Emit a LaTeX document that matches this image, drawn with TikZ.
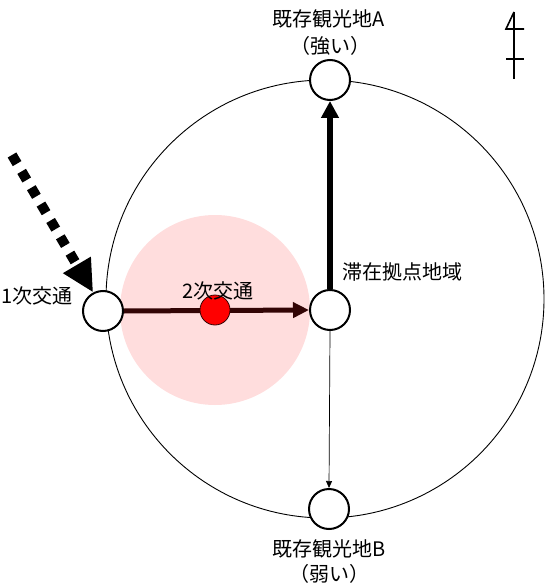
\documentclass[tikz,border=0pt]{standalone}
\usepackage{fontspec}
\setmainfont{Noto Sans CJK JP}
\usetikzlibrary{arrows.meta}
\definecolor{darkred}{RGB}{51,5,5}
\definecolor{lightpink}{RGB}{255,221,221}
\definecolor{dotred}{RGB}{255,0,0}
\tikzset{
  site/.style={circle,draw=black,line width=2pt,fill=white,minimum size=40pt,inner sep=0pt},
  lbl/.style={font=\fontsize{20}{22}\selectfont,inner sep=0pt},
}
\begin{document}
\begin{tikzpicture}[x=1pt,y=-1pt]
\useasboundingbox (0,0) rectangle (550,585);
% big circle
\draw[line width=0.9pt] (325,299) circle (219);
% pink area
\fill[lightpink] (215,310) circle (95);
% nodes
\node[site] (L) at (103,311) {};
\node[site] (C) at (330,310) {};
\node[site] (A) at (330,80) {};
\node[site] (B) at (329,509) {};
% arrows
\draw[darkred,line width=5pt,-{Triangle[length=16pt,width=15pt]}] (L.east) -- (C.west);
\node[circle,draw=darkred,line width=0.8pt,fill=dotred,minimum size=30pt,inner sep=0pt] (R) at (215,310) {};
\draw[line width=6pt,-{Triangle[length=17pt,width=17pt]}] (C.north) -- (A.south);
\draw[line width=0.7pt,-{Triangle[length=7pt,width=6pt]}] (C.south) -- (B.north);
% dashed inflow
\coordinate (S) at (12,155);
\draw[line width=10pt,dash pattern=on 10pt off 9pt,-{Triangle[length=32pt,width=30pt]}] (S) -- (L.118);
% labels
\node[lbl] (tA1) at (329,19) {既存観光地A};
\node[lbl] (tA2) at (330,46) {（強い）};
\node[lbl] (tB1) at (329,549) {既存観光地B};
\node[lbl] (tB2) at (329,574) {（弱い）};
\node[lbl,anchor=west] (tC) at (342,272) {滞在拠点地域};
\node[lbl,anchor=west] (t1) at (1,296) {1次交通};
\node[lbl] (t2) at (218,291) {2次交通};
% north mark
\coordinate (N1) at (514,12);
\coordinate (N2) at (514,79);
\draw[line width=1.6pt] (N1) -- (N2);
\draw[line width=1.6pt] (N1) -- (506,29) -- (524,29);
\draw[line width=1.6pt] (506,59) -- (524,59);
\end{tikzpicture}
\end{document}
